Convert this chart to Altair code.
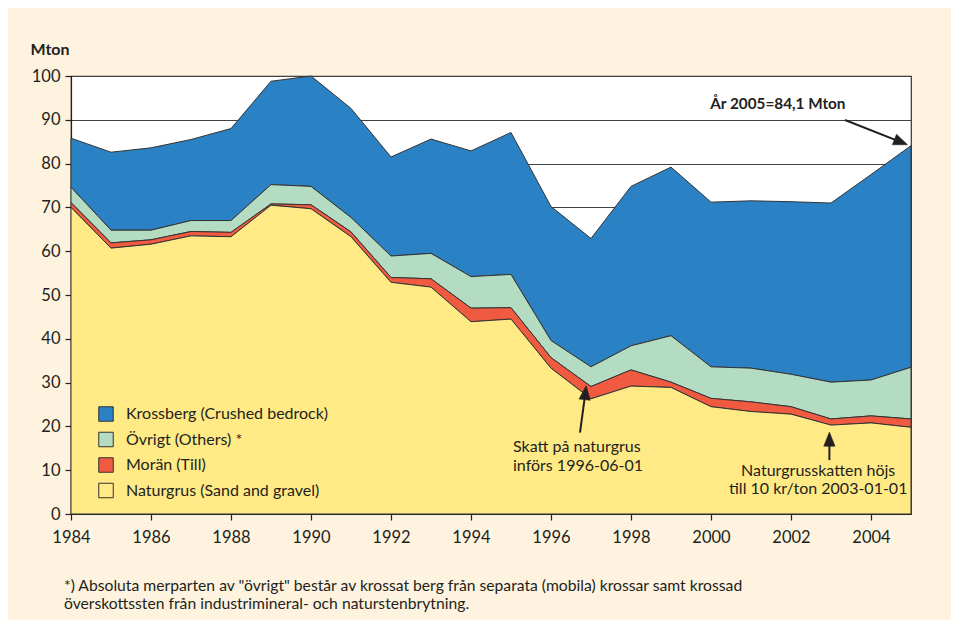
import altair as alt
import pandas as pd

years = list(range(1984, 2006))
series_names = ["Krossberg (Crushed bedrock)", "Övrigt (Others) *", "Morän (Till)", "Naturgrus (Sand and gravel)"]
series_colors = ["#2A82C5", "#B3DCC2", "#F05A40", "#FFEA85"]
stack_order = [3, 2, 1, 0]

naturgrus = [70.0, 60.7, 61.6, 63.5, 63.3, 70.5, 69.7, 63.3, 52.9, 51.8, 43.9, 44.5, 33.3, 26.3, 29.2, 28.9, 24.5, 23.4, 22.8, 20.3, 20.8, 19.8]
moran = [1.1, 1.2, 1.0, 1.0, 1.0, 0.3, 0.9, 1.1, 1.1, 1.9, 3.1, 2.6, 2.4, 2.8, 3.7, 1.2, 1.9, 2.2, 1.7, 1.4, 1.6, 1.9]
ovrigt = [3.5, 2.9, 2.2, 2.5, 2.7, 4.4, 4.2, 3.3, 4.9, 5.8, 7.2, 7.6, 3.9, 4.5, 5.5, 10.6, 7.2, 7.7, 7.4, 8.4, 8.2, 11.8]
krossberg = [11.2, 17.8, 18.8, 18.5, 21.0, 23.6, 25.2, 24.9, 22.6, 26.1, 28.7, 32.4, 30.6, 29.3, 36.4, 38.5, 37.6, 38.2, 39.4, 40.9, 46.9, 50.6]

y_ticks = list(range(0, 101, 10))

# annotation texts (data coordinates)
ann_left_text = ["Skatt på naturgrus", "införs 1996-06-01"]
ann_left_x = [1995.05, 1995.05]
ann_left_y = [15.3, 11.0]
ann_center_text = ["Naturgrusskatten höjs", "till 10 kr/ton 2003-01-01"]
ann_center_x = [2002.68, 2002.68]
ann_center_y = [9.9, 5.6]
ann_bold_text = ["År 2005=84,1 Mton"]
ann_bold_x = [1999.98]
ann_bold_y = [93.6]

# arrows: shaft start -> head centre, head angle
arrow_x = [2003.35, 1996.725, 2002.96]
arrow_y = [89.95, 18.6, 12.3]
arrow_x2 = [2004.75, 1996.86, 2002.96]
arrow_y2 = [84.9, 27.7, 17.1]
arrow_angle = [111.7, 6.0, 0.0]

footnote = [
    '*) Absoluta merparten av "övrigt" består av krossat berg från separata (mobila) krossar samt krossad',
    "överskottssten från industrimineral- och naturstenbrytning.",
]

FONT = "Lato"
INK = "#231f20"

rows = []
for s, vals, o in zip(series_names, [krossberg, ovrigt, moran, naturgrus], stack_order):
    for yr, v in zip(years, vals):
        rows.append({"year": yr, "value": v, "series": s, "ord": o})
df = pd.DataFrame(rows)

X = alt.X(
    "year:Q",
    title=None,
    scale=alt.Scale(domain=[1984, 2005], nice=False, zero=False),
    axis=alt.Axis(
        values=years,
        labelExpr="datum.value % 2 == 0 ? format(datum.value, 'd') : ''",
        grid=False,
        tickSize=6,
        labelPadding=9,
        labelFlush=False,
        labelOverlap=False,
    ),
)
Y = alt.Y(
    "value:Q",
    title="Mton",
    stack="zero",
    scale=alt.Scale(domain=[0, 100], nice=False),
    axis=alt.Axis(
        values=y_ticks,
        grid=True,
        tickSize=6,
        labelPadding=5,
        titleAngle=0,
        titleAlign="left",
        titleBaseline="alphabetic",
        titleX=-41,
        titleY=-22,
        titleFont=FONT,
        titleFontSize=16,
        titleFontWeight="bold",
        titleColor=INK,
    ),
)

area = alt.Chart(df).mark_area(stroke="#333333", strokeWidth=1, interpolate="linear", opacity=1).encode(
    x=X,
    y=Y,
    color=alt.Color(
        "series:N",
        scale=alt.Scale(domain=series_names, range=series_colors),
        legend=alt.Legend(
            title=None,
            orient="none",
            legendX=27,
            legendY=330,
            padding=0,
            symbolType="square",
            symbolSize=210,
            symbolStrokeColor="#333333",
            symbolStrokeWidth=1,
            symbolOpacity=1,
            labelFont=FONT,
            labelFontSize=16,
            labelColor=INK,
            labelOffset=12,
            labelLimit=0,
            rowPadding=5.5,
        ),
    ),
    order=alt.Order("ord:Q", sort="ascending"),
)

arrows_df = pd.DataFrame({"year": arrow_x, "value": arrow_y, "year2": arrow_x2, "value2": arrow_y2, "ang": arrow_angle})
shafts = alt.Chart(arrows_df).mark_rule(color=INK, strokeWidth=2).encode(
    x=alt.X("year:Q"), y=alt.Y("value:Q"), x2="year2:Q", y2="value2:Q"
)
heads = alt.Chart(arrows_df).mark_point(
    shape="M0,-1L0.8,1L-0.8,1Z", filled=True, fill=INK, stroke=INK, strokeWidth=0.5, opacity=1
).encode(
    x=alt.X("year2:Q"), y=alt.Y("value2:Q"), angle=alt.Angle("ang:Q", scale=None), size=alt.value(200)
)

t_left = alt.Chart(pd.DataFrame({"year": ann_left_x, "value": ann_left_y, "t": ann_left_text})).mark_text(
    font=FONT, fontSize=16, align="left", baseline="middle", color=INK
).encode(x="year:Q", y="value:Q", text="t:N")
t_center = alt.Chart(pd.DataFrame({"year": ann_center_x, "value": ann_center_y, "t": ann_center_text})).mark_text(
    font=FONT, fontSize=16, align="center", baseline="middle", color=INK
).encode(x="year:Q", y="value:Q", text="t:N")
t_bold = alt.Chart(pd.DataFrame({"year": ann_bold_x, "value": ann_bold_y, "t": ann_bold_text})).mark_text(
    font=FONT, fontSize=15.3, fontWeight="bold", align="left", baseline="middle", color=INK
).encode(x="year:Q", y="value:Q", text="t:N")

chart = alt.layer(area, shafts, heads, t_left, t_center, t_bold).properties(
    width=840,
    height=438,
    background="#FEF3DE",
    padding={"left": 63, "top": 68, "right": 40, "bottom": 106},
    autosize=alt.AutoSizeParams(type="none"),
    title=alt.TitleParams(
        text=footnote,
        orient="bottom",
        anchor="start",
        frame="group",
        font=FONT,
        fontSize=15.7,
        fontWeight="normal",
        color=INK,
        lineHeight=18.5,
        offset=33,
        dx=-7,
    ),
).configure_view(
    fill="white", stroke="#333333", strokeWidth=1.2
).configure_axis(
    domainColor=INK,
    tickColor=INK,
    labelColor=INK,
    labelFont=FONT,
    labelFontSize=16.5,
    gridColor="#444444",
    gridWidth=1,
    domainWidth=1.2,
    tickWidth=1.2,
)

chart.save("out.html", embed_options={"renderer": "svg", "actions": False})
